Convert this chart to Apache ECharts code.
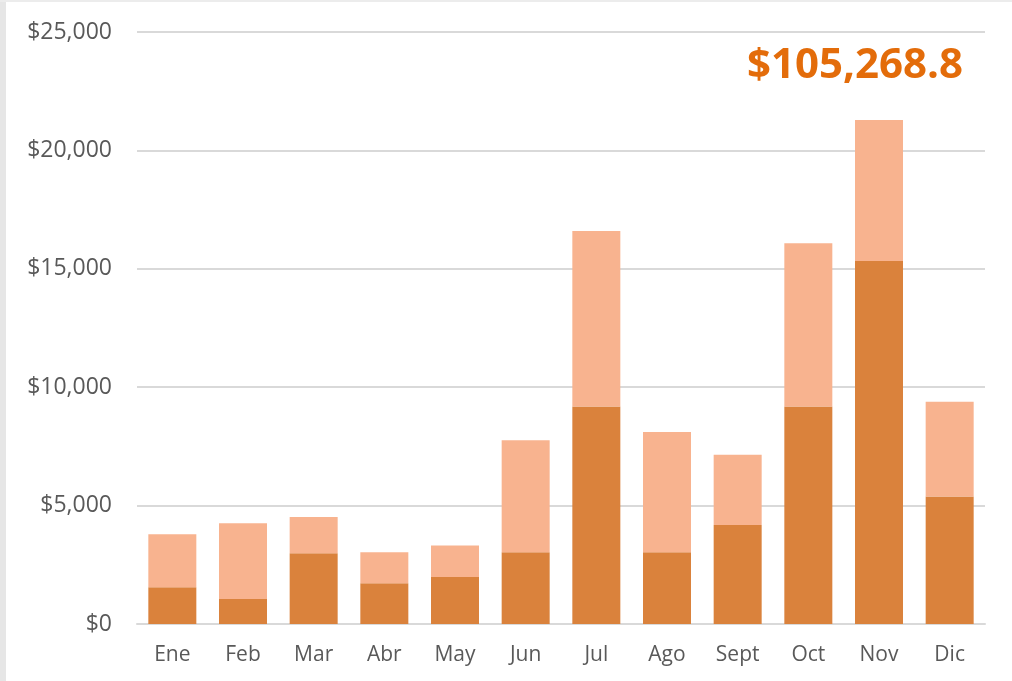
<!DOCTYPE html>
<html>
<head>
<meta charset="utf-8">
<script src="https://cdn.jsdelivr.net/npm/echarts@6/dist/echarts.min.js"></script>
<style>
  html, body { margin: 0; padding: 0; background: #fff; }
  #main { width: 1012px; height: 681px; }
</style>
</head>
<body>
<div id="main"></div>
<script>
// meses
var meses = ['Ene', 'Feb', 'Mar', 'Abr', 'May', 'Jun', 'Jul', 'Ago', 'Sept', 'Oct', 'Nov', 'Dic'];
// parte inferior (oscura)
var base = [1550, 1060, 2990, 1720, 1990, 3030, 9180, 3030, 4180, 9180, 15330, 5380];
// parte superior (clara)
var resto = [2240, 3190, 1530, 1310, 1320, 4730, 7420, 5080, 2970, 6900, 5950, 4010];
// eje y
var yMin = 0, yMax = 25000, yPaso = 5000;
var totalTexto = '$105,268.8';

var chart = echarts.init(document.getElementById('main'));

var option = {
  animation: false,
  grid: { left: 137, right: 27, top: 32, bottom: 57 },
  // marco gris a la izquierda y arriba + total
  graphic: [
    { type: 'rect', left: 0, top: 0, shape: { width: 6, height: 681 }, style: { fill: '#e6e6e6' } },
    { type: 'rect', left: 0, top: 0, shape: { width: 1012, height: 2 }, style: { fill: '#ececec' } },
    {
      type: 'text', x: 855, y: 66,
      style: {
        text: totalTexto, fill: '#E36C0A', font: 'bold 42px "Open Sans"',
        textAlign: 'center', textVerticalAlign: 'middle'
      }
    }
  ],
  xAxis: {
    type: 'category',
    data: meses,
    axisTick: { show: false },
    axisLine: { lineStyle: { color: '#d9d9d9', width: 2 } },
    axisLabel: { color: '#595959', fontSize: 21, fontFamily: 'Open Sans', margin: 21 }
  },
  yAxis: {
    type: 'value',
    min: yMin, max: yMax, interval: yPaso,
    axisLine: { show: false },
    axisTick: { show: false },
    splitLine: { lineStyle: { color: '#d9d9d9', width: 2 } },
    axisLabel: {
      color: '#595959', fontSize: 23, fontFamily: 'Open Sans', margin: 25,
      formatter: function (v) { return '$' + v.toLocaleString('en-US'); }
    }
  },
  series: [
    {
      name: 'Base', type: 'bar', stack: 'total', barWidth: 48,
      itemStyle: { color: '#DA823C' },
      data: base
    },
    {
      name: 'Resto', type: 'bar', stack: 'total', barWidth: 48,
      itemStyle: { color: '#F8B38F' },
      data: resto
    }
  ]
};

chart.setOption(option);
</script>
</body>
</html>
